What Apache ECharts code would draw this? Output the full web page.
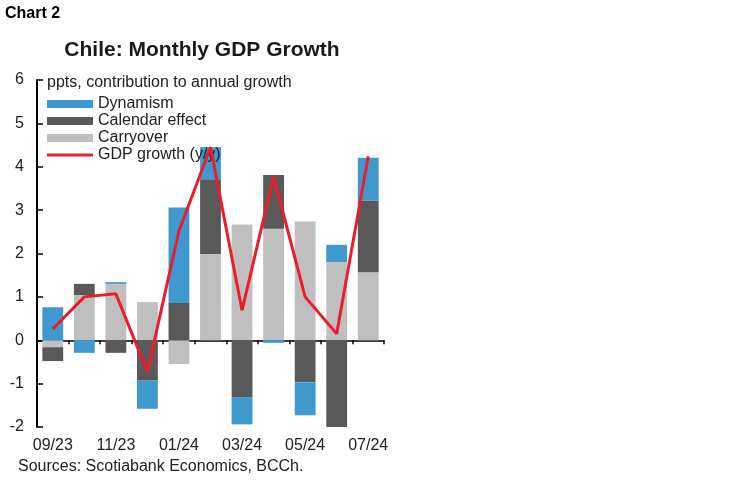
<!DOCTYPE html>
<html>
<head>
<meta charset="utf-8">
<script src="https://cdn.jsdelivr.net/npm/echarts@6/dist/echarts.min.js"></script>
<style>html,body{margin:0;padding:0;background:#fff}#c{width:749px;height:482px}</style>
</head>
<body>
<div id="c"></div>
<script>
var categories = ['09/23','10/23','11/23','12/23','01/24','02/24','03/24','04/24','05/24','06/24','07/24'];
var carryover = [-0.16, 1.04, 1.30, 0.88, -0.55, 1.99, 2.67, 2.57, 2.74, 1.80, 1.57];
var calendar = [-0.32, 0.26, -0.29, -0.93, 0.86, 1.72, -1.31, 1.24, -0.97, -2.02, 1.65];
var dynamism = [0.76, -0.29, 0.04, -0.65, 2.20, 0.74, -0.63, -0.06, -0.76, 0.40, 0.99];
var gdp = [0.26, 1.00, 1.07, -0.73, 2.52, 4.45, 0.69, 3.78, 1.00, 0.15, 4.24];
var yTicks = {min: -2, max: 6, interval: 1};

var FONT = '"Liberation Sans", Arial, sans-serif';
var chart = echarts.init(document.getElementById('c'), null, {renderer: 'canvas'});
chart.setOption({
  animation: false,
  backgroundColor: '#fff',
  textStyle: {fontFamily: FONT},
  title: [
    {text: 'Chart 2', left: 0, top: 1, textStyle: {fontFamily: FONT, fontWeight: 'bold', fontSize: 16, color: '#000'}},
    {text: 'Chile: Monthly GDP Growth', left: 197, textAlign: 'center', top: 35, textStyle: {fontFamily: FONT, fontWeight: 'bold', fontSize: 21, color: '#1a1a1a'}}
  ],
  graphic: [
    {type: 'text', left: 47, top: 75, style: {text: 'ppts, contribution to annual growth', font: '16px ' + FONT, fill: '#222'}},
    {type: 'text', left: 18, top: 459, style: {text: 'Sources: Scotiabank Economics, BCCh.', font: '16px ' + FONT, fill: '#222'}}
  ],
  legend: {
    orient: 'vertical', left: 42, top: 91, itemWidth: 46, itemHeight: 8, itemGap: 1,
    textStyle: {fontFamily: FONT, fontSize: 16, lineHeight: 16, color: '#222'},
    data: [
      {name: 'Dynamism', icon: 'rect'},
      {name: 'Calendar effect', icon: 'rect'},
      {name: 'Carryover', icon: 'rect'},
      {name: 'GDP growth (y/y)', icon: 'path://M0,0L46,0L46,3L0,3Z', itemStyle: {color: '#EC1C2C'}}
    ]
  },
  grid: {left: 37, right: 365, top: 80, bottom: 55, containLabel: false},
  xAxis: [
    {type: 'category', data: categories, position: 'bottom',
     axisLine: {show: false, onZero: false}, axisTick: {show: false},
     axisLabel: {interval: 1, fontSize: 16, color: '#222', margin: 11, fontFamily: FONT}},
    {type: 'category', data: categories, position: 'top',
     axisLine: {show: true, onZero: true, lineStyle: {color: '#000', width: 1.5}},
     axisTick: {show: true, inside: true, interval: 0, length: 4, lineStyle: {color: '#000', width: 1.5}},
     axisLabel: {show: false}}
  ],
  yAxis: {
    type: 'value', min: yTicks.min, max: yTicks.max, interval: yTicks.interval,
    axisLine: {show: true, lineStyle: {color: '#000', width: 2}},
    axisTick: {show: true, inside: true, length: 6, lineStyle: {color: '#000', width: 1.5}},
    splitLine: {show: false},
    axisLabel: {fontSize: 16, color: '#222', margin: 13, fontFamily: FONT}
  },
  series: [
    {name: 'Carryover', type: 'bar', stack: 'c', data: carryover, barCategoryGap: '34%', itemStyle: {color: '#BFBFBF'}},
    {name: 'Calendar effect', type: 'bar', stack: 'c', data: calendar, itemStyle: {color: '#595959'}},
    {name: 'Dynamism', type: 'bar', stack: 'c', data: dynamism, itemStyle: {color: '#3F98CE'}},
    {name: 'GDP growth (y/y)', type: 'line', data: gdp, symbol: 'none', z: 5,
     lineStyle: {color: '#EC1C2C', width: 3}, itemStyle: {color: '#EC1C2C'}}
  ]
});
</script>
</body>
</html>
